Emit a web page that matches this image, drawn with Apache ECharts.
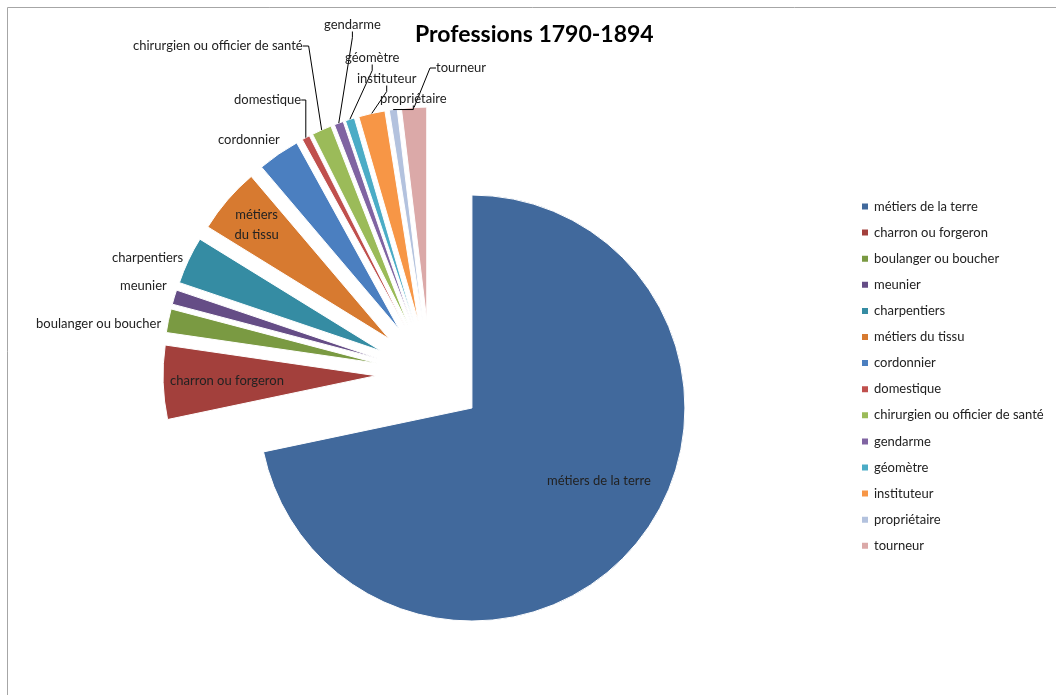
<!DOCTYPE html>
<html><head><meta charset="utf-8">
<script src="https://cdn.jsdelivr.net/npm/echarts@6/dist/echarts.min.js"></script>
<style>html,body{margin:0;padding:0;background:#fff}#c{width:1056px;height:695px}</style>
</head><body><div id="c"></div>
<script>
// ---- data ----
const titleText = 'Professions 1790-1894';
const categories = [
  'métiers de la terre', 'charron ou forgeron', 'boulanger ou boucher', 'meunier',
  'charpentiers', 'métiers du tissu', 'cordonnier', 'domestique',
  'chirurgien ou officier de santé', 'gendarme', 'géomètre', 'instituteur',
  'propriétaire', 'tourneur'
];
const values = [71.7, 5.6, 1.8, 1.1, 3.6, 5.0, 3.2, 0.6, 1.5, 0.7, 0.7, 2.0, 0.6, 1.9];
const colors = [
  '#41699c', '#a3403c', '#7a9a42', '#654d86', '#358ca3', '#d77a30', '#4b7fc0',
  '#c0504d', '#9bbb59', '#8064a2', '#4bacc6', '#f79646', '#b3c2de', '#dba9a8'
];
// ---- label placement (styling only) ----
const insideLabels = { 'charron ou forgeron': 0.70, 'métiers du tissu': 0.82 };
const placedLabels = {           // [left x, middle y] of manually placed data labels
  'métiers de la terre': [547, 481],
  'boulanger ou boucher': [36, 324],
  'meunier': [120, 286],
  'charpentiers': [112, 258],
  'cordonnier': [218, 140],
  'domestique': [234, 100],
  'chirurgien ou officier de santé': [133, 46],
  'gendarme': [324, 25],
  'géomètre': [345, 58],
  'instituteur': [357, 79],
  'propriétaire': [380, 99],
  'tourneur': [436, 68]
};
const leaderNames = ['domestique', 'chirurgien ou officier de santé', 'gendarme', 'géomètre',
  'instituteur', 'propriétaire', 'tourneur'];
const FONT = 'Lato, "Open Sans", sans-serif';
const CX = 430, CY = 374, R = 213, OFFSET = 54;

const chart = echarts.init(document.getElementById('c'), null, {renderer: 'canvas'});

const sliceData = categories.map((n, i) => ({
  name: n, value: values[i], selected: true, itemStyle: { color: colors[i] }
}));
const labelData = categories.map((n, i) => {
  const item = { name: n, value: values[i] };
  if (insideLabels[n] != null || i === 0) item.label = { position: 'inside' };
  if (n === 'métiers du tissu') item.label.lineHeight = 20;
  item.labelLine = { show: leaderNames.indexOf(n) >= 0 };
  return item;
});

chart.setOption({
  animation: false,
  backgroundColor: '#fff',
  graphic: [{
    type: 'rect', shape: { x: 7.5, y: 7.5, width: 1100, height: 800 },
    style: { fill: 'none', stroke: '#a6a6a6', lineWidth: 1 }, silent: true
  }],
  title: {
    text: titleText, left: 415, top: 23, padding: 0,
    textStyle: { fontFamily: FONT, fontSize: 23, fontWeight: 'bold', color: '#000' }
  },
  legend: {
    orient: 'vertical', left: 860, top: 200, padding: 0,
    itemWidth: 8, itemHeight: 8, itemGap: 13.1, icon: 'rect',
    selectedMode: false,
    textStyle: { fontFamily: FONT, fontSize: 13, color: '#222' },
    data: categories
  },
  series: [{
    // the slices, all pulled out from the centre (exploded pie)
    type: 'pie', z: 2,
    center: [CX, CY], radius: R, startAngle: 90, clockwise: true,
    selectedMode: 'multiple', selectedOffset: OFFSET,
    itemStyle: { borderColor: '#fff', borderWidth: 1 },
    emphasis: { disabled: true },
    label: { show: false }, labelLine: { show: false },
    data: sliceData
  }, {
    // same values, carries only the data labels and leader lines
    type: 'pie', z: 3, silent: true,
    center: [CX, CY], radius: R + OFFSET, startAngle: 90, clockwise: true,
    avoidLabelOverlap: false,
    itemStyle: { color: 'rgba(0,0,0,0)', borderWidth: 0 },
    emphasis: { disabled: true },
    label: {
      position: 'outside', fontFamily: FONT, fontSize: 13, color: '#222',
      distanceToLabelLine: 2,
      formatter: p => p.name === 'métiers du tissu' ? 'métiers\ndu tissu' : p.name
    },
    labelLine: { length: 3, length2: 6, smooth: false, lineStyle: { color: '#000', width: 1 } },
    labelLayout: function (params) {
      const name = categories[params.dataIndex];
      const r = params.labelRect;
      if (insideLabels[name] != null) {
        const mx = r.x + r.width / 2 - CX, my = r.y + r.height / 2 - CY;
        const d = Math.sqrt(mx * mx + my * my) || 1;
        const k = OFFSET + R * insideLabels[name];
        return { x: CX + mx / d * k, y: CY + my / d * k, align: 'center', verticalAlign: 'middle' };
      }
      if (placedLabels[name]) {
        const p = placedLabels[name];
        return { x: p[0], y: p[1], align: 'left', verticalAlign: 'middle' };
      }
      return {};
    },
    data: labelData
  }]
});
</script>
</body></html>
